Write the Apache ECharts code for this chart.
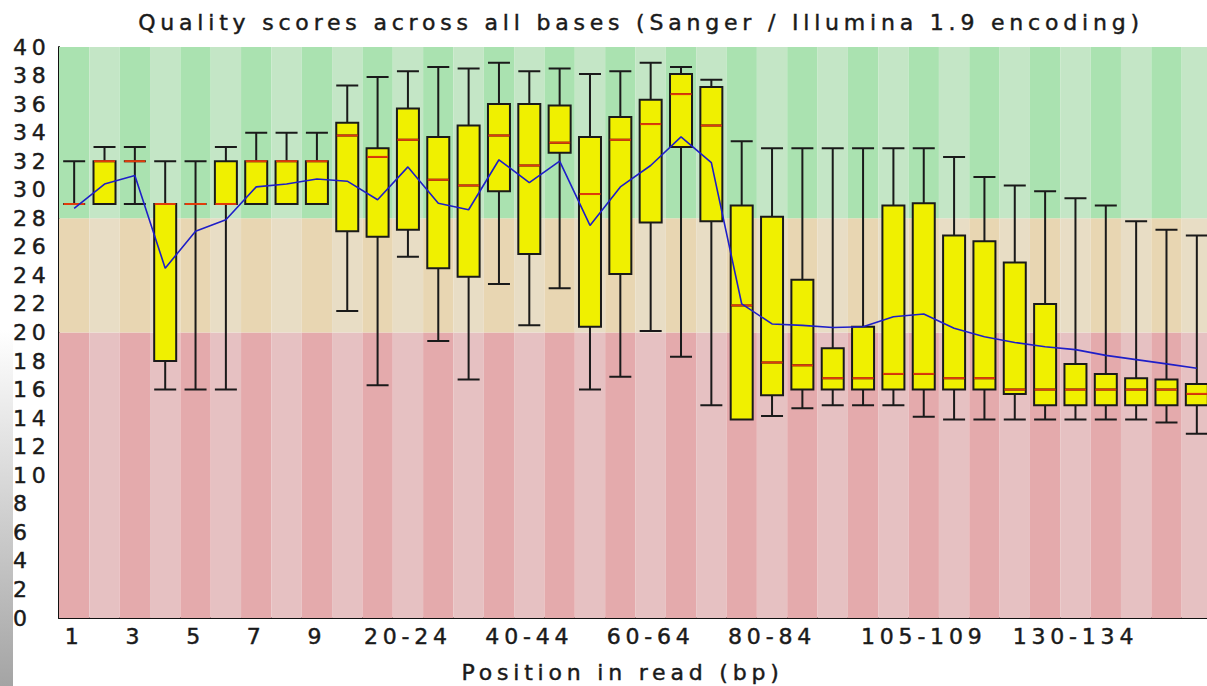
<!DOCTYPE html>
<html>
<head>
<meta charset="utf-8">
<script src="https://cdn.jsdelivr.net/npm/echarts@6/dist/echarts.min.js"></script>
<style>
  html, body { margin: 0; padding: 0; background: #ffffff; overflow: hidden; }
  #chart { width: 1207px; height: 686px; }
  #chart svg text { letter-spacing: 4.8px; stroke: #1a1a1a; stroke-width: 0.45px; }
</style>
</head>
<body>
<div id="chart"></div>
<script>
// ---- data ----
const categories = ['1','2','3','4','5','6','7','8','9','10-14','15-19','20-24','25-29','30-34','35-39','40-44','45-49','50-54','55-59','60-64','65-69','70-74','75-79','80-84','85-89','90-94','95-99','100-104','105-109','110-114','115-119','120-124','125-129','130-134','135-139','140-144','145-149','150-151'];
const xTickLabels = ['1','3','5','7','9','20-24','40-44','60-64','80-84','105-109','130-134'];
const lower10 = [29,29,29,16,16,16,29,29,29, 21.5,16.3,25.3,19.4,16.7,23.4,20.5,23.1,16.0,16.9, 20.1,18.3,14.9,13.9,14.15,14.7,14.9,14.9,14.9,14.1, 13.9,13.9,13.9,13.9,13.9,13.9,13.9,13.7,12.9];
const q1      = [29,29,32,18,29,29,29,29,29, 27.1,26.7,27.2,24.5,23.9,29.9,25.5,32.6,20.4,24.1, 27.7,33.0,27.8,13.9,15.6,16.0,16.0,16.0,16.0,16.0, 16.0,16.0,15.7,14.9,14.9,14.9,14.9,14.9,14.9];
const median  = [29,32,32,29,29,29,32,32,32, 33.8,32.3,33.5,30.7,30.3,33.8,31.7,33.3,29.7,33.5, 34.6,36.7,34.5,21.9,17.9,17.7,16.8,16.8,17.1,17.1, 16.8,16.8,16.0,16.0,16.0,16.0,16.0,16.0,15.7];
const q3      = [29,32,32,29,29,32,32,32,32, 34.7,32.9,35.7,33.7,34.5,36.0,36.0,35.9,33.7,35.1, 36.3,38.1,37.2,28.9,28.1,23.7,18.9,20.4,28.9,29.05, 26.8,26.4,24.9,22.0,17.8,17.1,16.8,16.7,16.4];
const upper90 = [32,33,33,32,32,33,34,34,34, 37.3,37.9,38.3,38.6,38.5,38.9,38.3,38.5,38.1,38.3, 38.9,38.6,37.7,33.4,32.9,32.9,32.9,32.9,32.9,32.9, 32.3,30.9,30.3,29.9,29.4,28.9,27.8,27.2,26.8];
const meanQ   = [28.7,30.4,31.0,24.5,27.1,27.9,30.2,30.4,30.75, 30.6,29.3,31.6,29.05,28.6,32.1,30.5,32.0,27.5,30.2, 31.7,33.7,31.9,22.0,20.6,20.5,20.35,20.4,21.1,21.3, 20.3,19.7,19.3,19.0,18.8,18.4,18.1,17.8,17.5];
// quality zone boundaries (bad / ok / good)
const zoneBounds = [0, 20, 28, 40];
const zoneColors = [
  ['rgb(228,170,172)', 'rgb(230,193,194)'],
  ['rgb(232,214,178)', 'rgb(232,221,197)'],
  ['rgb(170,226,176)', 'rgb(196,230,198)']
];

// ---- build series ----
const bgSeries = zoneColors.map((cols, z) => ({
  type: 'bar',
  stack: 'bg',
  silent: true,
  barCategoryGap: '0%',
  z: 0,
  data: categories.map((c, i) => ({
    value: zoneBounds[z + 1] - zoneBounds[z],
    itemStyle: { color: cols[i % 2] }
  }))
}));

const boxData = categories.map((c, i) => [lower10[i], q1[i], median[i], q3[i], upper90[i]]);

const textColor = '#1a1a1a';
const fontFam = '"DejaVu Sans", Verdana, sans-serif';

const chart = echarts.init(document.getElementById('chart'), null, { renderer: 'svg' });
chart.setOption({
  animation: false,
  backgroundColor: '#ffffff',
  title: {
    text: 'Quality scores across all bases (Sanger / Illumina 1.9 encoding)',
    left: 636,
    top: 6,
    textAlign: 'center',
    textStyle: { fontFamily: fontFam, fontSize: 22, fontWeight: 'normal', color: textColor }
  },
  grid: { left: 59, top: 47, width: 1153, height: 571, containLabel: false, outerBoundsMode: 'none' },
  xAxis: {
    type: 'category',
    data: categories,
    boundaryGap: true,
    name: 'Position in read (bp)',
    nameLocation: 'middle',
    nameGap: 43,
    nameTextStyle: { fontFamily: fontFam, fontSize: 22, color: textColor, padding: [0, 26, 0, 0] },
    axisLine: { lineStyle: { color: '#111', width: 2 } },
    axisTick: { show: false },
    axisLabel: {
      interval: (idx, val) => xTickLabels.includes(val),
      fontFamily: fontFam, fontSize: 22, color: textColor, margin: 7
    },
    splitLine: { show: false }
  },
  yAxis: {
    type: 'value',
    min: 0, max: 40, interval: 2,
    axisLine: { show: true, lineStyle: { color: '#111', width: 2 } },
    axisTick: { show: false },
    axisLabel: {
      fontFamily: fontFam, fontSize: 22, color: textColor,
      align: 'left', margin: 46
    },
    splitLine: { show: false }
  },
  graphic: [{
    type: 'rect',
    left: 0, top: 330,
    shape: { width: 13, height: 356 },
    style: {
      fill: new echarts.graphic.LinearGradient(0, 0, 0, 1, [
        { offset: 0, color: '#ffffff' },
        { offset: 1, color: '#a4a4a4' }
      ])
    },
    silent: true, z: 100
  }],
  series: [
    ...bgSeries,
    {
      type: 'boxplot',
      data: boxData,
      boxWidth: [22, 22],
      z: 3,
      itemStyle: { color: 'rgb(240,240,0)', borderColor: '#1a1a1a', borderWidth: 2 },
      emphasis: { disabled: true }
    },
    {
      type: 'scatter',
      data: median,
      symbol: 'rect',
      symbolSize: [21, 2],
      z: 4,
      silent: true,
      itemStyle: { color: 'rgb(225,60,10)', opacity: 1 }
    },
    {
      type: 'line',
      data: meanQ,
      showSymbol: false,
      z: 5,
      silent: true,
      lineStyle: { color: 'rgb(30,30,200)', width: 1.6 }
    }
  ]
});
</script>
</body>
</html>
